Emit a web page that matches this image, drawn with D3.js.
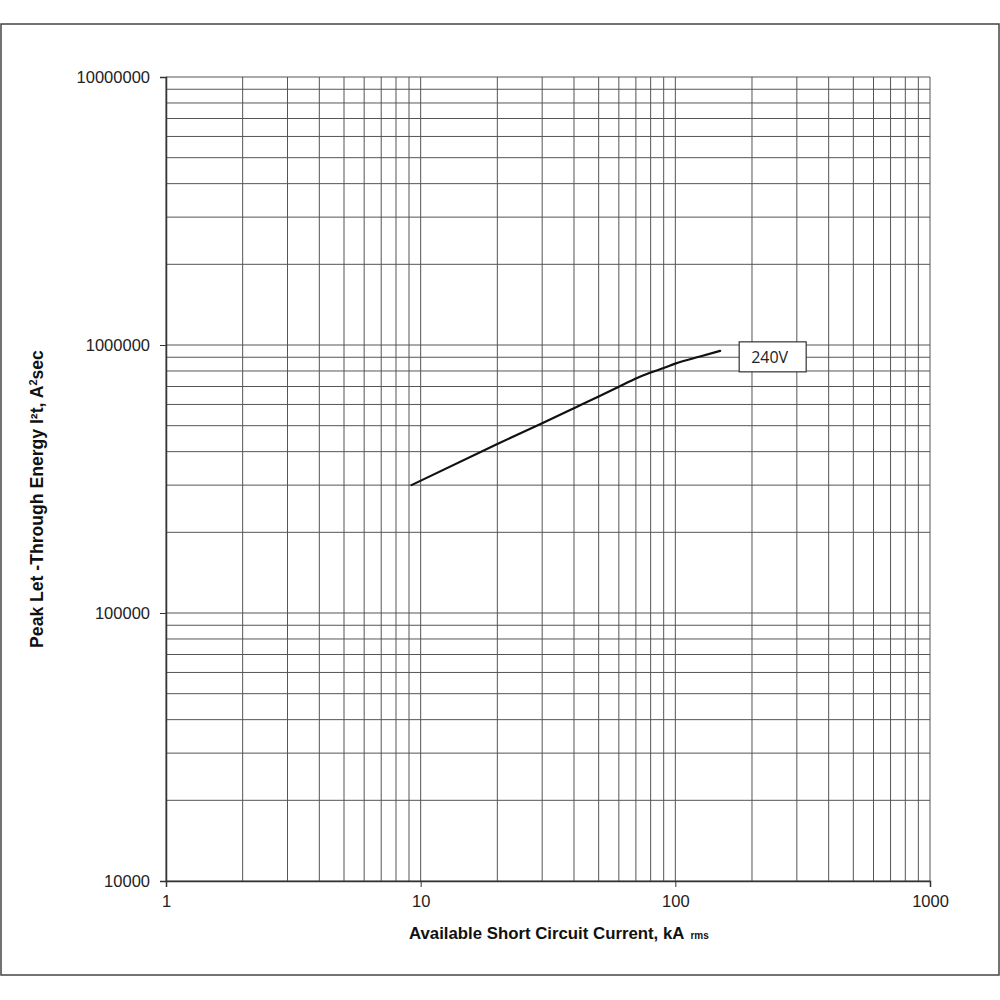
<!DOCTYPE html>
<html>
<head>
<meta charset="utf-8">
<script src="https://cdn.jsdelivr.net/npm/d3@7"></script>
<style>
  body { margin: 0; background: #fff; }
  text { font-family: "Liberation Sans", Arial, sans-serif; }
</style>
</head>
<body>
<div id="chart"></div>
<script>
// curve: available current (kA rms) vs I2t (A2sec)
const currentKA = [9.2, 20, 30, 40, 50, 60, 70, 80, 90, 100, 125, 150];
const letThrough = [300000, 427000, 511000, 581000, 642000, 698000, 750000, 789000, 821000, 852000, 906000, 951000];
const seriesLabel = "240V";

const xDecades = [1, 10, 100, 1000];
const yDecades = [10000, 100000, 1000000, 10000000];

const drawChart = () => {
    const margin = { top: 77, right: 70, bottom: 119, left: 166 };
    const width = 1000 - margin.left - margin.right;
    const height = 1000 - margin.top - margin.bottom;

    const svg = d3.select("#chart").append("svg")
        .attr("width", 1000)
        .attr("height", 1000);

    // outer frame
    svg.append("rect")
        .attr("x", 1).attr("y", 24)
        .attr("width", 998).attr("height", 951)
        .attr("fill", "none")
        .attr("stroke", "#444")
        .attr("stroke-width", 1.5);

    const g = svg.append("g")
        .attr("transform", `translate(${margin.left}, ${margin.top})`);

    const x = d3.scaleLog().domain([1, 1000]).range([0, width]);
    const y = d3.scaleLog().domain([10000, 10000000]).range([height, 0]);

    // 1..9 gridlines inside every decade
    const xGrid = [];
    xDecades.slice(0, -1).forEach(d => d3.range(1, 10).forEach(k => xGrid.push(d * k)));
    xGrid.push(1000);
    const yGrid = [];
    yDecades.slice(0, -1).forEach(d => d3.range(1, 10).forEach(k => yGrid.push(d * k)));
    yGrid.push(10000000);

    g.append("g").selectAll("line")
        .data(xGrid)
        .join("line")
        .attr("x1", d => x(d)).attr("x2", d => x(d))
        .attr("y1", 0).attr("y2", height)
        .attr("stroke", "#555")
        .attr("stroke-width", 1);

    g.append("g").selectAll("line")
        .data(yGrid)
        .join("line")
        .attr("y1", d => y(d)).attr("y2", d => y(d))
        .attr("x1", 0).attr("x2", width)
        .attr("stroke", "#555")
        .attr("stroke-width", 1);

    const xAxis = g.append("g")
        .attr("transform", `translate(0, ${height})`)
        .call(d3.axisBottom(x).tickValues(xDecades).tickFormat(d3.format("d")).tickSize(6).tickPadding(8));
    const yAxis = g.append("g")
        .call(d3.axisLeft(y).tickValues(yDecades).tickFormat(d3.format("d")).tickSize(6).tickPadding(10));

    [xAxis, yAxis].forEach(a => {
        a.select(".domain").attr("stroke", "#333").attr("stroke-width", 1.5);
        a.selectAll(".tick line").attr("stroke", "#333");
        a.selectAll("text")
            .attr("fill", "#222")
            .style("font-size", "16.5px")
            .style("font-family", "'Liberation Sans', Arial, sans-serif");
    });

    const line = d3.line()
        .x((d, i) => x(currentKA[i]))
        .y(d => y(d))
        .curve(d3.curveMonotoneX);

    g.append("path")
        .datum(letThrough)
        .attr("fill", "none")
        .attr("stroke", "#111")
        .attr("stroke-width", 2.2)
        .attr("stroke-linecap", "round")
        .attr("d", line);

    // series label box next to the end of the curve
    const lastX = x(currentKA[currentKA.length - 1]);
    const lastY = y(letThrough[letThrough.length - 1]);
    g.append("rect")
        .attr("x", lastX + 19)
        .attr("y", lastY - 9)
        .attr("width", 67)
        .attr("height", 30)
        .attr("fill", "#fff")
        .attr("stroke", "#333")
        .attr("stroke-width", 1.2);
    g.append("text")
        .attr("x", lastX + 31)
        .attr("y", lastY + 12)
        .attr("fill", "#222")
        .style("font-family", "'Open Sans', sans-serif")
        .style("font-size", "16px")
        .text(seriesLabel);

    // axis titles
    const xt = svg.append("text")
        .attr("x", 409)
        .attr("y", 939)
        .attr("fill", "#111")
        .style("font-size", "16.8px")
        .style("font-weight", "bold");
    xt.append("tspan").text("Available Short Circuit Current, kA ");
    xt.append("tspan").style("font-size", "10px").attr("dx", 2).text("rms");

    const yt = svg.append("text")
        .attr("transform", "translate(43, 499) rotate(-90)")
        .attr("text-anchor", "middle")
        .attr("fill", "#111")
        .style("font-size", "17.6px")
        .style("font-weight", "bold");
    yt.append("tspan").text("Peak Let -Through Energy I²t, A");
    yt.append("tspan").attr("dy", -6).style("font-size", "11px").text("2");
    yt.append("tspan").attr("dy", 6).text("sec");
}

drawChart();
</script>
</body>
</html>
